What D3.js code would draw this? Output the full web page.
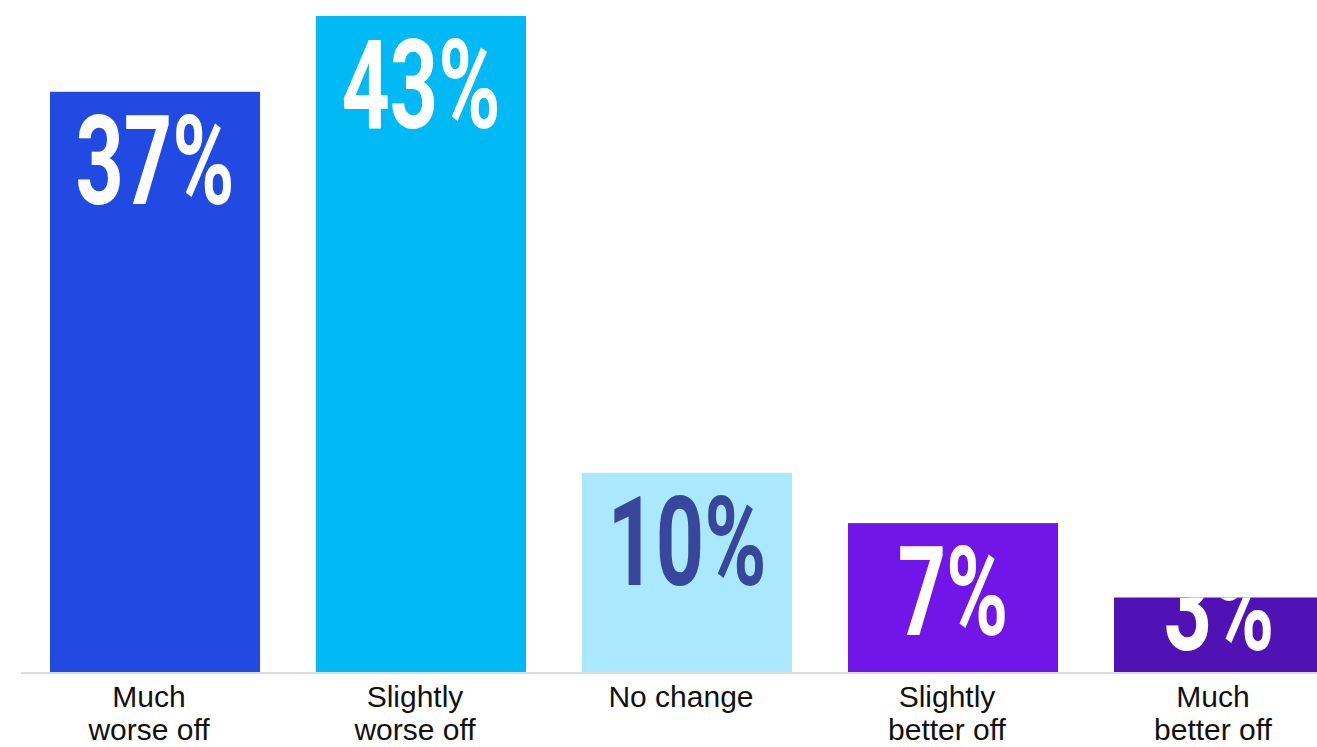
<!DOCTYPE html>
<html>
<head>
<meta charset="utf-8">
<script src="https://cdn.jsdelivr.net/npm/d3@7"></script>
<style>
  html, body { margin: 0; padding: 0; background: #ffffff; overflow: hidden; }
  svg { display: block; }
</style>
</head>
<body>
<svg id="chart" width="1317" height="747"></svg>
<script>
// Survey responses: share of respondents in each category
const categories = [
  ["Much", "worse off"],
  ["Slightly", "worse off"],
  ["No change"],
  ["Slightly", "better off"],
  ["Much", "better off"]
];
const values = [37, 43, 10, 7, 3];
const valueLabels = ["37%", "43%", "10%", "7%", "3%"];
const barColors = ["#204ae2", "#00b9f5", "#aae8fe", "#7115e8", "#5012b4"];
const labelColors = ["#ffffff", "#ffffff", "#38469b", "#ffffff", "#ffffff"];

const svg = d3.select("#chart");
const W = 1317, H = 747;
const baseY = 672;

const keys = categories.map(c => c.join(" "));

const x = d3.scaleBand()
  .domain(keys)
  .range([50, 1324])
  .paddingInner(0.2105)
  .paddingOuter(0);

const y = d3.scalePow()
  .exponent(0.817)
  .domain([0, d3.max(values)])
  .range([baseY, 16]);

const data = keys.map((k, i) => ({
  key: k, id: i, lines: categories[i], value: values[i],
  label: valueLabels[i], color: barColors[i], textColor: labelColors[i]
}));

// one clip region per bar so the big figures never spill outside their bar
const defs = svg.append("defs");
defs.selectAll("clipPath")
  .data(data)
  .join("clipPath")
  .attr("id", d => `bar-clip-${d.id}`)
  .append("rect")
  .attr("x", d => x(d.key))
  .attr("y", d => y(d.value))
  .attr("width", x.bandwidth())
  .attr("height", d => baseY - y(d.value));

// baseline
svg.append("line")
  .attr("x1", 21).attr("x2", W)
  .attr("y1", baseY + 1).attr("y2", baseY + 1)
  .attr("stroke", "#dcdcdc")
  .attr("stroke-width", 2);

// bars
svg.append("g").selectAll("rect")
  .data(data)
  .join("rect")
  .attr("x", d => x(d.key))
  .attr("y", d => y(d.value))
  .attr("width", x.bandwidth())
  .attr("height", d => baseY - y(d.value))
  .attr("fill", d => d.color);

// value figures inside the bars
svg.append("g").selectAll("g")
  .data(data)
  .join("g")
  .attr("clip-path", d => `url(#bar-clip-${d.id})`)
  .append("text")
  .attr("transform", d => {
    const cx = x(d.key) + x.bandwidth() / 2;
    const by = Math.min(y(d.value) + 112, baseY - 22);
    return `translate(${cx},${by}) scale(0.68,1)`;
  })
  .attr("text-anchor", "middle")
  .attr("font-family", "Roboto, 'Liberation Sans', sans-serif")
  .attr("font-weight", 700)
  .attr("font-size", 124)
  .attr("fill", d => d.textColor)
  .text(d => d.label);

// category labels below the axis
const cat = svg.append("g").selectAll("text")
  .data(data)
  .join("text")
  .attr("x", d => x(d.key) + x.bandwidth() / 2 - 6)
  .attr("y", 707)
  .attr("text-anchor", "middle")
  .attr("font-family", "'Liberation Sans', Arial, sans-serif")
  .attr("font-size", 30)
  .attr("fill", "#111111");

cat.selectAll("tspan")
  .data(d => d.lines.map(l => ({ l, cx: x(d.key) + x.bandwidth() / 2 - 6 })))
  .join("tspan")
  .attr("x", t => t.cx)
  .attr("dy", (t, i) => i === 0 ? 0 : 33)
  .text(t => t.l);
</script>
</body>
</html>
